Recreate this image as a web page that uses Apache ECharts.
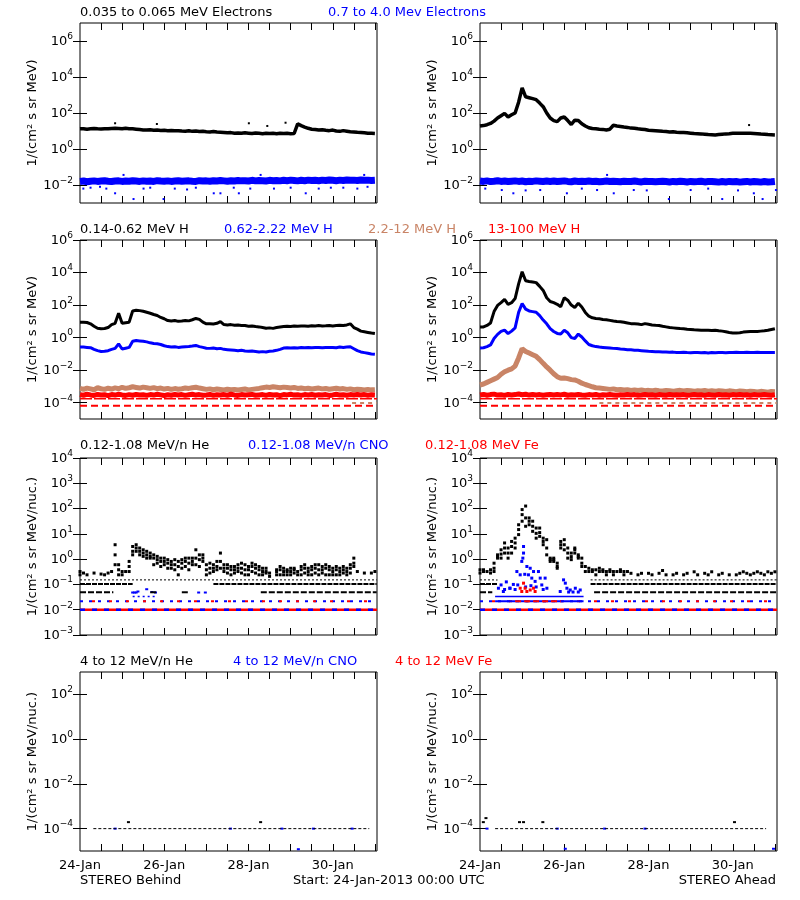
<!DOCTYPE html>
<html><head><meta charset="utf-8">
<script src="https://cdn.jsdelivr.net/npm/echarts@6.0.0/dist/echarts.min.js"></script>
<style>html,body{margin:0;padding:0;background:#fff}#c{width:800px;height:900px}</style>
</head><body><div id="c"></div>
<script>
// ---------- time grid (hours since 24-Jan-2013 00:00 UTC) ----------
const hours = [0,2,4,6,8,10,12,14,16,18,
  20,22,24,26,28,30,32,34,36,38,
  40,42,44,46,48,50,52,54,56,58,
  60,62,64,66,68,70,72,74,76,78,
  80,82,84,86,88,90,92,94,96,98,
  100,102,104,106,108,110,112,114,116,118,
  120,122,124,126,128,130,132,134,136,138,
  140,142,144,146,148,150,152,154,156,158,
  160,162,164,166,168];
const xTickHours = [12,24,36,48,60,72,84,96,108,120,132,144,156,168];
const xLabelHours = [0,48,96,144];
const xLabelText = ['24-Jan','26-Jan','28-Jan','30-Jan'];

// ---------- y tick values ----------
const yTicksR1 = [1e-2,1,1e2,1e4,1e6];
const yTicksR2 = [1e-4,1e-2,1,1e2,1e4,1e6];
const yTicksR3 = [1e-3,1e-2,1e-1,1,1e1,1e2,1e3,1e4];
const yTicksR4 = [1e-4,1e-2,1,1e2];

// ---------- Row 1: electrons (log10 flux) ----------
const eLoBehind = [1.12,1.13,1.10,1.12,1.14,1.12,1.11,1.13,1.12,1.14,
  1.15,1.14,1.12,1.15,1.13,1.12,1.10,1.08,1.06,1.05,
  1.07,1.04,1.05,1.03,1.04,1.02,1.03,1.01,1.02,1.00,
  0.99,1.01,0.98,1.00,0.97,0.98,0.96,0.95,0.97,0.94,
  0.93,0.92,0.90,0.91,0.88,0.89,0.87,0.90,0.88,0.86,
  0.89,0.87,0.85,0.88,0.86,0.87,0.85,0.88,0.86,0.87,
  0.85,0.86,1.40,1.30,1.22,1.15,1.10,1.08,1.05,1.07,
  1.04,1.02,1.05,1.00,0.98,1.02,0.99,0.96,0.95,0.93,
  0.92,0.90,0.88,0.87,0.86];
const eLoBehindOut = [[20,1.43],[43.8,1.39],[96.2,1.43],[106.7,1.28],[117.1,1.46]];
const eHiBehind = [-1.80,-1.78,-1.82,-1.79,-1.77,-1.80,-1.78,-1.76,-1.79,-1.81,
  -1.78,-1.77,-1.80,-1.78,-1.79,-1.76,-1.78,-1.80,-1.77,-1.79,
  -1.78,-1.80,-1.76,-1.78,-1.79,-1.77,-1.80,-1.78,-1.76,-1.79,
  -1.78,-1.77,-1.79,-1.80,-1.76,-1.78,-1.77,-1.79,-1.76,-1.78,
  -1.75,-1.77,-1.79,-1.76,-1.78,-1.75,-1.77,-1.76,-1.78,-1.74,
  -1.77,-1.75,-1.76,-1.78,-1.74,-1.76,-1.75,-1.77,-1.74,-1.76,
  -1.73,-1.75,-1.77,-1.74,-1.76,-1.73,-1.75,-1.74,-1.76,-1.73,
  -1.75,-1.72,-1.74,-1.76,-1.73,-1.75,-1.72,-1.74,-1.73,-1.75,
  -1.72,-1.74,-1.73,-1.75,-1.74];
const eHiBehindOut = [[1.9,-2.2],[11.4,-2.1],[20,-2.46],[30.5,-2.78],[36.2,-2.2],[47.6,-2.78],[61,-2.25],[76.2,-2.46],
  [80,-2.46],[87.6,-2.15],[90.5,-2.46],[110.5,-2.2],[128.6,-2.46],[142.9,-2.15],[158,-2.2],[163.8,-2.1],
  [24.8,-1.44],[102.9,-1.44],[161.9,-1.44],[6,-2.15],[15,-2.2],[40,-2.15],[54,-2.2],[66,-2.15],[97,-2.2],[120,-2.15],[136,-2.2],[150,-2.15]];
const eLoAhead = [1.28,1.30,1.35,1.42,1.55,1.72,1.85,1.98,1.78,1.90,
  2.00,2.60,3.40,2.90,2.85,2.80,2.74,2.55,2.35,2.00,
  1.72,1.58,1.52,1.72,1.78,1.58,1.36,1.60,1.58,1.40,
  1.28,1.18,1.14,1.12,1.10,1.09,1.06,1.10,1.32,1.28,
  1.25,1.22,1.20,1.16,1.15,1.12,1.10,1.08,1.04,1.03,
  1.02,1.00,0.98,0.97,0.95,0.96,0.93,0.92,0.91,0.90,
  0.88,0.86,0.85,0.84,0.82,0.80,0.79,0.78,0.80,0.82,
  0.84,0.85,0.87,0.88,0.87,0.88,0.87,0.87,0.86,0.85,
  0.83,0.82,0.80,0.79,0.78];
const eLoAheadOut = [[153.3,1.33]];
const eHiAhead = [-1.78,-1.80,-1.77,-1.81,-1.79,-1.76,-1.80,-1.78,-1.81,-1.79,
  -1.77,-1.80,-1.78,-1.82,-1.79,-1.80,-1.77,-1.79,-1.81,-1.78,
  -1.80,-1.78,-1.81,-1.79,-1.77,-1.80,-1.82,-1.78,-1.80,-1.79,
  -1.81,-1.78,-1.80,-1.79,-1.82,-1.80,-1.78,-1.81,-1.79,-1.80,
  -1.82,-1.79,-1.81,-1.80,-1.78,-1.81,-1.83,-1.79,-1.81,-1.80,
  -1.82,-1.80,-1.79,-1.81,-1.83,-1.80,-1.82,-1.79,-1.81,-1.83,
  -1.80,-1.82,-1.81,-1.79,-1.83,-1.81,-1.80,-1.82,-1.84,-1.81,
  -1.83,-1.80,-1.82,-1.81,-1.84,-1.82,-1.80,-1.83,-1.81,-1.82,
  -1.84,-1.81,-1.83,-1.82,-1.80];
const eHiAheadOut = [[12.4,-2.28],[19,-2.46],[34.3,-2.28],[49.5,-2.46],[66.7,-2.28],[76.2,-2.46],[87.6,-2.28],
  [107.6,-2.78],[120,-2.28],[138,-2.78],[156,-2.46],[161,-2.78],[168.6,-2.28],[72.4,-1.44],[3,-2.2],[26,-2.3],
  [58,-2.2],[95,-2.3],[130,-2.2],[147,-2.3]];

// ---------- Row 2: protons ----------
const hLoBehind = [0.95,0.95,0.93,0.85,0.70,0.58,0.55,0.56,0.62,0.80,
  0.88,1.50,0.88,0.92,0.95,1.64,1.68,1.66,1.62,1.56,
  1.50,1.42,1.36,1.24,1.16,1.05,1.02,1.05,1.00,1.02,
  1.05,1.03,1.10,1.18,1.12,0.95,0.85,0.86,0.84,0.88,
  0.98,0.80,0.78,0.80,0.76,0.78,0.75,0.74,0.70,0.72,
  0.68,0.66,0.62,0.58,0.60,0.57,0.62,0.65,0.68,0.70,
  0.69,0.72,0.70,0.71,0.72,0.70,0.73,0.72,0.74,0.72,
  0.73,0.75,0.72,0.74,0.76,0.75,0.78,0.85,0.62,0.52,
  0.40,0.36,0.32,0.28,0.25];
const hMidBehind = [-0.57,-0.58,-0.60,-0.62,-0.72,-0.80,-0.85,-0.84,-0.80,-0.72,
  -0.66,-0.38,-0.70,-0.65,-0.60,-0.22,-0.18,-0.20,-0.22,-0.26,
  -0.32,-0.36,-0.38,-0.42,-0.50,-0.55,-0.58,-0.56,-0.60,-0.58,
  -0.56,-0.55,-0.52,-0.48,-0.55,-0.60,-0.65,-0.66,-0.64,-0.68,
  -0.66,-0.72,-0.74,-0.76,-0.78,-0.80,-0.78,-0.82,-0.84,-0.82,
  -0.85,-0.88,-0.86,-0.88,-0.84,-0.82,-0.78,-0.72,-0.64,-0.62,
  -0.64,-0.62,-0.63,-0.61,-0.62,-0.60,-0.62,-0.61,-0.60,-0.62,
  -0.60,-0.61,-0.60,-0.62,-0.58,-0.60,-0.58,-0.56,-0.68,-0.80,
  -0.88,-0.92,-0.96,-1.00,-1.02];
const hHiBehind = [-3.12,-3.18,-3.10,-3.15,-3.20,-3.08,-3.14,-3.18,-3.11,-3.16,
  -3.09,-3.14,-3.05,-3.12,-3.08,-3.02,-3.06,-3.10,-3.04,-3.08,
  -3.12,-3.07,-3.14,-3.10,-3.16,-3.12,-3.18,-3.13,-3.17,-3.14,
  -3.10,-3.12,-3.08,-3.05,-3.10,-3.14,-3.18,-3.15,-3.20,-3.16,
  -3.19,-3.22,-3.17,-3.20,-3.18,-3.22,-3.19,-3.16,-3.21,-3.18,
  -3.15,-3.12,-3.08,-3.04,-3.06,-3.02,-3.05,-3.08,-3.04,-3.07,
  -3.10,-3.06,-3.12,-3.09,-3.14,-3.11,-3.16,-3.13,-3.10,-3.15,
  -3.12,-3.17,-3.14,-3.11,-3.16,-3.13,-3.18,-3.15,-3.20,-3.17,
  -3.19,-3.22,-3.18,-3.21,-3.20];
const hTopBehind = [-3.50,-3.54,-3.48,-3.52,-3.55,-3.49,-3.53,-3.51,-3.56,-3.50,
  -3.53,-3.48,-3.52,-3.55,-3.50,-3.54,-3.49,-3.53,-3.51,-3.55,
  -3.50,-3.53,-3.48,-3.52,-3.56,-3.51,-3.54,-3.49,-3.53,-3.50,
  -3.55,-3.51,-3.48,-3.53,-3.50,-3.54,-3.52,-3.49,-3.55,-3.51,
  -3.53,-3.50,-3.54,-3.48,-3.52,-3.55,-3.50,-3.53,-3.51,-3.49,
  -3.54,-3.52,-3.50,-3.55,-3.49,-3.53,-3.51,-3.56,-3.50,-3.52,
  -3.48,-3.53,-3.51,-3.55,-3.50,-3.52,-3.49,-3.54,-3.51,-3.53,
  -3.50,-3.55,-3.52,-3.48,-3.53,-3.51,-3.54,-3.50,-3.52,-3.49,
  -3.53,-3.50,-3.54,-3.51,-3.52];
const hLoAhead = [0.65,0.66,0.75,0.90,1.60,1.98,2.15,2.35,2.05,2.15,
  2.40,3.30,4.05,3.50,3.45,3.42,3.38,3.15,2.90,2.45,
  2.22,2.15,2.05,1.90,2.45,2.30,2.00,1.85,2.12,1.88,
  1.55,1.32,1.22,1.18,1.16,1.12,1.10,1.06,1.02,0.99,
  0.98,0.94,0.90,0.86,0.85,0.84,0.80,0.86,0.82,0.78,
  0.76,0.75,0.70,0.66,0.62,0.60,0.58,0.56,0.55,0.52,
  0.50,0.48,0.47,0.46,0.46,0.45,0.44,0.45,0.42,0.40,
  0.36,0.32,0.29,0.28,0.30,0.34,0.36,0.38,0.37,0.38,
  0.40,0.42,0.45,0.50,0.55];
const hMidAhead = [-0.63,-0.62,-0.55,-0.45,-0.05,0.20,0.38,0.46,0.25,0.40,
  0.60,1.55,2.10,1.75,1.64,1.60,1.56,1.35,1.08,0.85,
  0.55,0.38,0.26,0.22,0.45,0.30,0.00,-0.05,0.22,0.04,
  -0.20,-0.42,-0.50,-0.55,-0.58,-0.60,-0.62,-0.64,-0.66,-0.67,
  -0.70,-0.72,-0.74,-0.75,-0.77,-0.78,-0.80,-0.82,-0.84,-0.85,
  -0.86,-0.87,-0.88,-0.88,-0.90,-0.89,-0.91,-0.92,-0.90,-0.92,
  -0.93,-0.91,-0.92,-0.93,-0.92,-0.94,-0.92,-0.93,-0.91,-0.92,
  -0.93,-0.91,-0.92,-0.90,-0.91,-0.92,-0.90,-0.91,-0.92,-0.90,
  -0.91,-0.92,-0.91,-0.92,-0.92];
const hHiAhead = [-2.91,-2.85,-2.75,-2.65,-2.55,-2.45,-2.25,-2.10,-2.00,-1.92,
  -1.75,-1.25,-0.68,-0.85,-0.95,-1.05,-1.15,-1.35,-1.58,-1.80,
  -2.00,-2.22,-2.40,-2.50,-2.48,-2.52,-2.58,-2.60,-2.68,-2.80,
  -2.88,-2.95,-3.02,-3.08,-3.10,-3.12,-3.15,-3.18,-3.15,-3.20,
  -3.18,-3.22,-3.20,-3.24,-3.21,-3.25,-3.22,-3.26,-3.24,-3.27,
  -3.23,-3.26,-3.28,-3.25,-3.27,-3.30,-3.26,-3.24,-3.28,-3.25,
  -3.27,-3.30,-3.26,-3.28,-3.25,-3.29,-3.27,-3.30,-3.26,-3.28,
  -3.31,-3.27,-3.29,-3.32,-3.28,-3.30,-3.33,-3.29,-3.31,-3.34,
  -3.30,-3.32,-3.35,-3.31,-3.33];
const hTopAhead = [-3.52,-3.49,-3.54,-3.50,-3.47,-3.53,-3.51,-3.55,-3.49,-3.52,
  -3.50,-3.46,-3.51,-3.48,-3.53,-3.49,-3.52,-3.50,-3.54,-3.51,
  -3.49,-3.53,-3.50,-3.52,-3.48,-3.54,-3.51,-3.53,-3.49,-3.52,
  -3.54,-3.50,-3.52,-3.49,-3.55,-3.51,-3.53,-3.50,-3.52,-3.54,
  -3.51,-3.53,-3.49,-3.52,-3.50,-3.54,-3.52,-3.49,-3.53,-3.51,
  -3.55,-3.50,-3.52,-3.54,-3.49,-3.53,-3.51,-3.52,-3.50,-3.54,
  -3.52,-3.49,-3.53,-3.51,-3.55,-3.50,-3.52,-3.54,-3.49,-3.53,
  -3.51,-3.54,-3.50,-3.52,-3.49,-3.53,-3.51,-3.55,-3.50,-3.52,
  -3.53,-3.50,-3.52,-3.54,-3.51];
const redFloorLevels = [-3.76, -4.19];
const brownFloorLevel = -4.02;
const brownFloorBehind = [155,169];
const brownFloorAhead = [68,169];

// ---------- Row 3: 0.12-1.08 MeV/n ions ----------
const heBehindHi = [-0.49,-0.55,-0.62,null,-0.55,null,-0.59,-0.62,-0.55,-0.49,
  0.57,-0.22,-0.49,-0.49,-0.09,0.50,0.57,0.44,0.37,0.31,
  0.24,0.17,0.11,0.04,0.04,-0.02,-0.09,-0.02,-0.09,-0.02,
  0.04,0.04,0.04,0.37,0.17,0.17,-0.22,-0.16,-0.22,-0.09,
  0.24,-0.22,-0.22,-0.29,-0.29,-0.22,-0.16,-0.22,-0.29,-0.16,
  -0.22,-0.29,-0.36,-0.36,-0.55,null,-0.42,-0.29,-0.36,-0.42,
  -0.36,-0.36,-0.49,-0.29,-0.22,-0.36,-0.29,-0.22,-0.22,-0.29,
  -0.22,-0.29,-0.36,-0.29,-0.36,-0.29,-0.36,-0.22,0.04,-0.49,
  null,-0.55,null,-0.55,-0.49];
const heBehindMid = [null,null,null,null,null,null,null,null,null,null,
  0.17,-0.42,null,null,-0.29,0.31,0.44,0.31,0.24,0.17,
  0.11,0.04,-0.02,-0.09,-0.09,-0.16,-0.22,-0.22,-0.29,-0.16,
  -0.09,-0.16,-0.09,0.04,-0.02,0.04,-0.42,-0.36,-0.36,-0.29,
  -0.09,-0.36,-0.36,-0.42,-0.42,-0.36,-0.36,-0.42,-0.42,-0.29,
  -0.36,-0.42,-0.49,-0.49,null,null,-0.49,-0.42,-0.49,-0.49,
  -0.49,-0.42,null,-0.42,-0.36,-0.49,-0.42,-0.36,-0.42,-0.42,
  -0.36,-0.42,-0.49,-0.42,-0.49,-0.42,-0.49,-0.36,-0.16,null];
const heBehindLo = [-0.62,null,null,null,null,null,null,null,null,null,
  -0.22,-0.62,-0.62,null,-0.49,0.17,0.31,0.17,0.11,0.04,
  0.04,-0.22,-0.16,-0.29,-0.22,-0.36,-0.36,-0.42,-0.62,-0.36,
  -0.29,-0.42,-0.22,-0.22,-0.29,-0.09,-0.62,-0.55,-0.49,-0.42,
  -0.36,-0.49,-0.55,-0.62,-0.55,-0.49,-0.55,-0.62,-0.62,-0.49,
  -0.55,-0.62,-0.62,-0.55,-0.68,null,-0.62,-0.62,-0.62,-0.62,
  -0.62,-0.55,-0.62,-0.62,-0.55,-0.62,-0.62,-0.55,-0.62,-0.55,
  -0.62,-0.62,-0.62,-0.62,-0.62,-0.55,-0.62,-0.55,-0.29];
const heAheadHi = [-0.42,-0.42,-0.49,-0.42,-0.16,0.17,0.37,0.64,0.44,0.70,
  0.83,1.36,1.96,2.10,1.63,1.50,1.23,1.23,0.83,0.77,
  0.04,0.04,-0.16,0.70,0.77,0.44,0.24,0.44,0.17,0.04,
  -0.29,-0.36,-0.42,-0.42,-0.36,-0.42,-0.49,-0.42,-0.49,-0.49,
  -0.42,-0.49,-0.49,-0.56,null,-0.62,-0.56,null,-0.56,-0.62,
  null,-0.56,-0.45,-0.62,null,-0.62,-0.56,null,-0.62,-0.56,
  null,-0.50,-0.62,null,-0.56,-0.62,-0.50,null,-0.62,-0.56,
  null,-0.62,null,-0.62,-0.56,-0.50,-0.56,-0.62,-0.56,-0.50,
  -0.56,-0.62,-0.50,-0.56,-0.50];
const heAheadMid = [null,null,null,null,-0.36,0.10,0.20,0.44,0.24,0.50,
  0.64,1.17,1.76,1.63,1.50,1.30,1.02,1.05,0.70,0.44,
  -0.02,-0.02,-0.29,0.57,0.57,0.24,0.10,0.37,0.10,-0.16];
const heAheadLo = [-0.55,-0.49,null,-0.55,-0.49,0.04,0.04,0.24,0.04,0.24,
  0.44,0.97,1.50,1.30,1.36,1.10,0.83,0.90,0.57,0.17,
  -0.09,-0.09,-0.36,0.44,0.37,0.04,-0.02,0.24,0.04,-0.29,
  -0.49,-0.49,-0.49,-0.62,-0.49,-0.49,-0.62,-0.49,-0.62,null,
  -0.49,-0.62];
const heFloorLevels = [-0.82, -0.98, -1.31];
const heFloorSegsBehind = [[[0,169]], [[0,30],[76,169]], [[0,19],[40,44],[58,62],[103,169]]];
const heFloorSegsAhead = [[[0,10],[63,169]], [[0,10],[63,169]], [[0,7],[65,169]]];
const ionFloorLevels = [-1.67, -2.0];
const cnoBehindPts = [[30,-1.32],[31,-1.32],[32,-1.32],[33,-1.28],[38,-1.19],[41,-1.30],[43,-1.32],[67.6,-1.32],[71.4,-1.32]];
const cnoBehindSeg = [-1.48, 30, 43];
const cnoAheadPts = [[10.5,-1.15],[12,-1.02],[13.3,-1.28],[14,-1.2],[15,-0.9],[17,-1.15],[17.1,-1.15],[19,-1.0],[20,-1.2],
  [21,-0.49],[21.5,-1.02],[22.9,-0.62],[23.8,-0.09],[24.4,0.04],[24.8,0.24],[24.8,0.50],[26.7,-0.29],[27.6,-0.62],
  [28.6,-0.36],[29.5,-0.75],[30.5,-0.49],[31.4,-0.88],[33.3,-0.49],[34.3,-0.75],[35.2,-1.02],[37.1,-0.75],[38.1,-1.15],
  [45.7,-1.28],[47.6,-0.82],[48.6,-0.95],[49.5,-1.15],[51.4,-1.22],[54.3,-1.15],[57.1,-1.22],
  [25.5,-0.6],[26,-1.1],[29,-1.05],[32,-1.1],[36,-1.2],[50.5,-1.3],[53,-1.3],[56,-1.3]];
const cnoAheadSeg = [-1.48, 8.6, 59];
const feAheadPts = [[22.9,-1.15],[23.8,-1.28],[24.8,-0.95],[25.7,-1.15],[26.7,-1.28],[28.6,-1.22],[30.5,-1.15],[31.4,-1.28]];

// ---------- Row 4: 4-12 MeV/n ions ----------
const r4Floor = -4.0;
const r4FloorBehind = [7.6,164.8];
const r4FloorAhead = [8.6,163];
const heHiBehindPts = [[27.6,-3.71],[102.9,-3.71]];
const cnoHiBehindPts = [[124.4,-4.92],[20,-4.0],[85.7,-4.0],[115,-4.0],[133,-4.0],[155,-4.0]];
const heHiAheadPts = [[1.9,-3.71],[3.4,-3.53],[22.5,-3.71],[24.8,-3.71],[35.8,-3.71],[145,-3.71]];
const cnoHiAheadPts = [[48.6,-4.9],[167.2,-4.9],[4,-4.0],[44,-4.0],[71,-4.0],[94,-4.0]];

// ---------- titles ----------
const titlesRow1 = [['0.035 to 0.065 MeV Electrons','#000000'],['0.7 to 4.0 Mev Electrons','#0000ff']];
const titlesRow2 = [['0.14-0.62 MeV H','#000000'],['0.62-2.22 MeV H','#0000ff'],['2.2-12 MeV H','#c98466'],['13-100 MeV H','#ff0000']];
const titlesRow3 = [['0.12-1.08 MeV/n He','#000000'],['0.12-1.08 MeV/n CNO','#0000ff'],['0.12-1.08 MeV Fe','#ff0000']];
const titlesRow4 = [['4 to 12 MeV/n He','#000000'],['4 to 12 MeV/n CNO','#0000ff'],['4 to 12 MeV Fe','#ff0000']];

// ================== build ==================
const FONT = 'DejaVu Sans';
const BLACK = '#000000', BLUE = '#0000ff', RED = '#ff0000', BROWN = '#c98466';
const P = v => Math.pow(10, v);
function onGrid(arr){ const out=[]; arr.forEach((v,i)=>{ if(v!==null && i<hours.length) out.push([hours[i], P(v)]); }); return out; }
function fromPairs(list){ return list.map(p=>[p[0], P(p[1])]); }
function segData(a,b,lv){ return [[a,P(lv)],[b,P(lv)]]; }
function lineS(g, data, color, width, type, extra){
  return {type:'line', xAxisIndex:2*g, yAxisIndex:2*g, data, symbol:'none', showSymbol:false,
    lineStyle:Object.assign({color, width, type: type||'solid', opacity:1}, extra||{}), silent:true, animation:false};
}
function scatS(g, data, color, size){
  return {type:'scatter', xAxisIndex:2*g, yAxisIndex:2*g, data, symbol:'rect', symbolSize:size||[3,3],
    itemStyle:{color, opacity:1}, silent:true, animation:false};
}

const gridPos = [[80,23,297,180],[480,23,297,180],[80,240,297,179],[480,240,297,179],
                 [80,458,297,177],[480,458,297,177],[80,672,297,179],[480,672,297,179]];
const rowY = [
  {min:1e-3,max:1e7,ticks:yTicksR1,name:'1/(cm² s sr MeV)'},
  {min:1e-5,max:1e6,ticks:yTicksR2,name:'1/(cm² s sr MeV)'},
  {min:1e-3,max:1e4,ticks:yTicksR3,name:'1/(cm² s sr MeV/nuc.)'},
  {min:1e-5,max:1e3,ticks:yTicksR4,name:'1/(cm² s sr MeV/nuc.)'}
];
function expLabel(v){
  const e = Math.round(Math.log10(v));
  const es = e < 0 ? '−' + (-e) : String(e);
  return '{b|10}{s|' + es + '}';
}

const grid=[], xAxis=[], yAxis=[];
gridPos.forEach((p,g)=>{
  const row = Math.floor(g/2);
  grid.push({left:p[0], top:p[1], width:p[2], height:p[3], show:true, borderColor:'#000', borderWidth:1, backgroundColor:'transparent'});
  const tickCfg = {inside:true, length:7, customValues:xTickHours, lineStyle:{color:'#000', width:1}};
  xAxis.push({type:'value', gridIndex:g, position:'bottom', min:0, max:169.2,
    axisLine:{show:false}, splitLine:{show:false}, axisTick:tickCfg,
    axisLabel:{show: row===3, customValues:xLabelHours, margin:8, color:'#000', fontSize:13, fontFamily:FONT,
      formatter: v => { const i = xLabelHours.indexOf(Math.round(v)); return i>=0 ? xLabelText[i] : ''; }}});
  xAxis.push({type:'value', gridIndex:g, position:'top', min:0, max:169.2,
    axisLine:{show:false}, splitLine:{show:false}, axisTick:tickCfg, axisLabel:{show:false}});
  const ry = rowY[row];
  const yTick = {inside:true, length:7, customValues:ry.ticks, lineStyle:{color:'#000', width:1}};
  yAxis.push({type:'log', logBase:10, gridIndex:g, position:'left', min:ry.min, max:ry.max,
    axisLine:{show:false}, splitLine:{show:false}, axisTick:yTick,
    name: ry.name, nameLocation:'middle', nameGap:38, nameRotate:90,
    nameTextStyle:{color:'#000', fontSize:13, fontFamily:FONT},
    axisLabel:{customValues:ry.ticks, margin:7, formatter:expLabel, color:'#000',
      rich:{ b:{fontSize:13, fontFamily:FONT, color:'#000', verticalAlign:'bottom', lineHeight:14},
             s:{fontSize:9, fontFamily:FONT, color:'#000', verticalAlign:'bottom', lineHeight:14, padding:[0,0,7,0]} }}});
  yAxis.push({type:'log', logBase:10, gridIndex:g, position:'right', min:ry.min, max:ry.max,
    axisLine:{show:false}, splitLine:{show:false}, axisTick:yTick, axisLabel:{show:false}});
});

const series = [];
// Row 1
series.push(lineS(0, onGrid(eLoBehind), BLACK, 3.5));
series.push(scatS(0, fromPairs(eLoBehindOut), BLACK, [2,2]));
series.push(lineS(0, onGrid(eHiBehind), BLUE, 7));
series.push(scatS(0, fromPairs(eHiBehindOut), BLUE, [2,2]));
series.push(lineS(1, onGrid(eLoAhead), BLACK, 3.5));
series.push(scatS(1, fromPairs(eLoAheadOut), BLACK, [2,2]));
series.push(lineS(1, onGrid(eHiAhead), BLUE, 7));
series.push(scatS(1, fromPairs(eHiAheadOut), BLUE, [2,2]));
// Row 2
[[2,hLoBehind,hMidBehind,hHiBehind,hTopBehind,brownFloorBehind],[3,hLoAhead,hMidAhead,hHiAhead,hTopAhead,brownFloorAhead]].forEach(r=>{
  const g=r[0];
  series.push(lineS(g, onGrid(r[1]), BLACK, 3));
  series.push(lineS(g, onGrid(r[2]), BLUE, 3));
  series.push(lineS(g, onGrid(r[3]), BROWN, 5));
  series.push(lineS(g, segData(r[5][0], r[5][1], brownFloorLevel), BROWN, 2, [4,4]));
  series.push(lineS(g, onGrid(r[4]), RED, 5));
  series.push(lineS(g, segData(0,169.2,redFloorLevels[0]), RED, 1.5, [12,2]));
  series.push(lineS(g, segData(0,169.2,redFloorLevels[1]), RED, 2, [7,4]));
});
// Row 3
[[4,heFloorSegsBehind],[5,heFloorSegsAhead]].forEach(r=>{
  const g=r[0];
  const styles=[[1,[2,2]],[2,[5,1]],[2,[6,2]]];
  r[1].forEach((segs,k)=>{ segs.forEach(s=>{ series.push(lineS(g, segData(s[0],s[1],heFloorLevels[k]), BLACK, styles[k][0], styles[k][1])); }); });
});
series.push(scatS(4, onGrid(heBehindHi), BLACK, [3,3]));
series.push(scatS(4, onGrid(heBehindMid), BLACK, [3,3]));
series.push(scatS(4, onGrid(heBehindLo), BLACK, [3,3]));
series.push(scatS(5, onGrid(heAheadHi), BLACK, [3,3]));
series.push(scatS(5, onGrid(heAheadMid), BLACK, [3,3]));
series.push(scatS(5, onGrid(heAheadLo), BLACK, [3,3]));
[4,5].forEach(g=>{
  series.push(lineS(g, segData(0,169.2,ionFloorLevels[0]), BLUE, 2, [3,6]));
  series.push(lineS(g, segData(0,169.2,ionFloorLevels[0]), RED, 2, [3,14], {dashOffset:5}));
  series.push(lineS(g, segData(0,169.2,ionFloorLevels[1]), RED, 2.5));
  series.push(lineS(g, segData(0,169.2,ionFloorLevels[1]), BLUE, 2.5, [5,7]));
});
series.push(lineS(4, segData(cnoBehindSeg[1], cnoBehindSeg[2], cnoBehindSeg[0]), BLUE, 1.5, [2,3]));
series.push(scatS(4, fromPairs(cnoBehindPts), BLUE, [3,2]));
series.push(lineS(5, segData(cnoAheadSeg[1], cnoAheadSeg[2], cnoAheadSeg[0]), BLUE, 1.5));
series.push(lineS(5, segData(cnoAheadSeg[1], cnoAheadSeg[2], ionFloorLevels[0]), BLUE, 2));
series.push(lineS(5, segData(20, 46, ionFloorLevels[0]), RED, 2, [6,3]));
series.push(scatS(5, fromPairs(cnoAheadPts), BLUE, [3,3]));
series.push(scatS(5, fromPairs(feAheadPts), RED, [3,3]));
// Row 4
series.push(lineS(6, segData(r4FloorBehind[0], r4FloorBehind[1], r4Floor), BLACK, 1, [3,2]));
series.push(scatS(6, fromPairs(heHiBehindPts), BLACK, [3,2]));
series.push(scatS(6, fromPairs(cnoHiBehindPts), BLUE, [3,2]));
series.push(lineS(7, segData(r4FloorAhead[0], r4FloorAhead[1], r4Floor), BLACK, 1, [3,2]));
series.push(scatS(7, fromPairs(heHiAheadPts), BLACK, [3,2]));
series.push(scatS(7, fromPairs(cnoHiAheadPts), BLUE, [3,2]));

// ---------- text ----------
const graphic = [];
function txt(t, x, y, color, align){
  graphic.push({type:'text', x, y, silent:true,
    style:{text:t, fill:color, font:'13px "' + FONT + '"', textAlign:align||'left', textVerticalAlign:'middle'}});
}
const titleX1 = [80, 328], titleX2 = [80, 224, 368, 488], titleX3 = [80, 248, 425], titleX4 = [80, 233, 395];
titlesRow1.forEach((t,i)=>txt(t[0], titleX1[i], 13, t[1]));
titlesRow2.forEach((t,i)=>txt(t[0], titleX2[i], 230, t[1]));
titlesRow3.forEach((t,i)=>txt(t[0], titleX3[i], 446, t[1]));
titlesRow4.forEach((t,i)=>txt(t[0], titleX4[i], 662, t[1]));
txt('STEREO Behind', 80, 881, BLACK);
txt('Start: 24-Jan-2013 00:00 UTC', 293, 881, BLACK);
txt('STEREO Ahead', 776, 881, BLACK, 'right');

const chart = echarts.init(document.getElementById('c'), null, {renderer:'canvas', width:800, height:900});
chart.setOption({backgroundColor:'#ffffff', animation:false, textStyle:{fontFamily:FONT},
  grid, xAxis, yAxis, series, graphic});
</script></body></html>
